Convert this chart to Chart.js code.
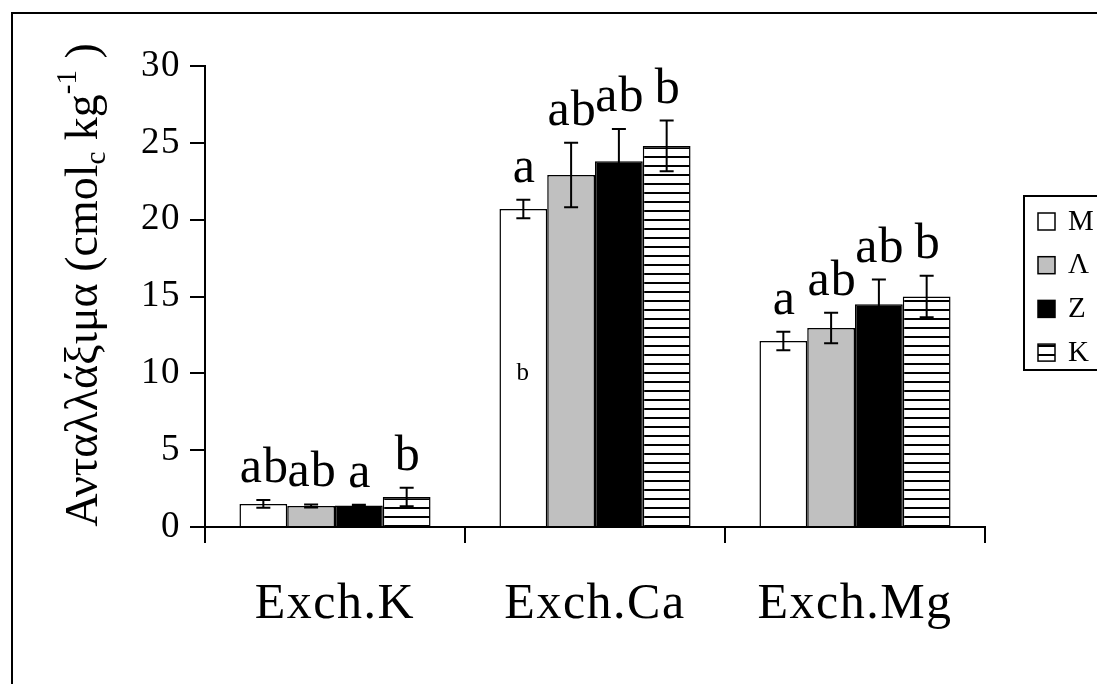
<!DOCTYPE html>
<html>
<head>
<meta charset="utf-8">
<script src="https://cdn.jsdelivr.net/npm/chart.js@4.4.1/dist/chart.umd.min.js"></script>
<style>
    body { margin: 0; background: #fff; }
    #wrap { width: 1097px; height: 684px; position: relative; }
</style>
</head>
<body>
<div id="wrap"><canvas id="graficoCationes"></canvas></div>
<script>
// categorías y series
const categorias = ['Exch.K', 'Exch.Ca', 'Exch.Mg'];
const series = ['M', 'Λ', 'Z', 'K'];

// medias (cmol_c/kg)
const mediaM = [1.5, 20.7, 12.1];
const mediaL = [1.37, 22.9, 12.95];
const mediaZ = [1.4, 23.8, 14.5];
const mediaK = [1.95, 24.8, 15.0];

// error estándar
const errM = [0.25, 0.6, 0.6];
const errL = [0.1, 2.1, 1.0];
const errZ = [0.05, 2.1, 1.6];
const errK = [0.6, 1.65, 1.35];

// letras de significancia
const letrasM = ['ab', 'a', 'a'];
const letrasL = ['ab', 'ab', 'ab'];
const letrasZ = ['a', 'ab', 'ab'];
const letrasK = ['b', 'b', 'b'];

// letra suelta dentro de la barra M de Exch.Ca
const notaInterior = { serie: 0, categoria: 1, valor: 10, texto: 'b' };

const yTicks = [0, 5, 10, 15, 20, 25, 30];

const FUENTE = "'Liberation Serif', 'Times New Roman', serif";

function rayado(ctx) {
    const c = document.createElement('canvas');
    c.width = 10;
    c.height = 9;
    const p = c.getContext('2d');
    p.fillStyle = '#fff';
    p.fillRect(0, 0, 10, 9);
    p.fillStyle = '#000';
    p.fillRect(0, 3, 10, 2);
    return ctx.createPattern(c, 'repeat');
}

document.addEventListener("DOMContentLoaded", function () {
    const ctx = document.getElementById('graficoCationes').getContext('2d');
    const patron = rayado(ctx);

    const medias = [mediaM, mediaL, mediaZ, mediaK];
    const errores = [errM, errL, errZ, errK];
    const letras = [letrasM, letrasL, letrasZ, letrasK];
    const rellenos = ['#ffffff', '#c0c0c0', '#000000', patron];

    const datasets = series.map((s, i) => ({
        label: s,
        data: medias[i],
        errores: errores[i],
        letras: letras[i],
        backgroundColor: rellenos[i],
        borderColor: '#000',
        borderWidth: 1.5,
        barPercentage: 1,
        categoryPercentage: 0.735
    }));

    const marco = {
        id: 'marco',
        beforeDraw(chart) {
            const c = chart.ctx;
            c.save();
            c.fillStyle = '#fff';
            c.fillRect(0, 0, chart.width, chart.height);
            c.strokeStyle = '#000';
            c.lineWidth = 2;
            c.strokeRect(12, 13, 2000, 2000);
            c.restore();
            // texto algo más ancho, como en el original
            c.letterSpacing = '1.5px';
        }
    };

    const barrasError = {
        id: 'barrasError',
        afterDatasetsDraw(chart) {
            const c = chart.ctx;
            const y = chart.scales.y;
            c.save();
            c.strokeStyle = '#000';
            c.lineWidth = 2;
            chart.data.datasets.forEach((ds, i) => {
                chart.getDatasetMeta(i).data.forEach((bar, j) => {
                    const v = ds.data[j], e = ds.errores[j];
                    const y1 = y.getPixelForValue(v + e);
                    const y2 = y.getPixelForValue(v - e);
                    c.beginPath();
                    c.moveTo(bar.x, y1); c.lineTo(bar.x, y2);
                    c.moveTo(bar.x - 7, y1); c.lineTo(bar.x + 7, y1);
                    c.moveTo(bar.x - 7, y2); c.lineTo(bar.x + 7, y2);
                    c.stroke();
                });
            });
            // letras
            c.fillStyle = '#000';
            c.textAlign = 'center';
            c.textBaseline = 'alphabetic';
            c.letterSpacing = '1px';
            c.font = '50px ' + FUENTE;
            chart.data.datasets.forEach((ds, i) => {
                chart.getDatasetMeta(i).data.forEach((bar, j) => {
                    const top = y.getPixelForValue(ds.data[j] + ds.errores[j]);
                    c.fillText(ds.letras[j], bar.x + 1, top - 18);
                });
            });
            const b = chart.getDatasetMeta(notaInterior.serie).data[notaInterior.categoria];
            c.font = '25px ' + FUENTE;
            c.textBaseline = 'middle';
            c.fillText(notaInterior.texto, b.x, y.getPixelForValue(notaInterior.valor));
            c.restore();
        }
    };

    const tituloY = {
        id: 'tituloY',
        afterDraw(chart) {
            const c = chart.ctx;
            const big = '46px ' + FUENTE, small = '29px ' + FUENTE;
            const partes = [
                { t: 'Ανταλλάξιμα (cmol', f: big, dy: 0 },
                { t: 'c', f: small, dy: 8 },
                { t: ' kg', f: big, dy: 0 },
                { t: '-1', f: small, dy: -21 },
                { t: ' )', f: big, dy: 0 }
            ];
            c.save();
            c.letterSpacing = '0px';
            let total = 0;
            partes.forEach(p => { c.font = p.f; p.w = c.measureText(p.t).width; total += p.w; });
            c.translate(97, 285);
            c.rotate(-Math.PI / 2);
            c.fillStyle = '#000';
            c.textBaseline = 'alphabetic';
            c.textAlign = 'left';
            let x = -total / 2;
            partes.forEach(p => { c.font = p.f; c.fillText(p.t, x, p.dy); x += p.w; });
            c.restore();
        }
    };

    const leyenda = {
        id: 'leyenda',
        afterDraw(chart) {
            const c = chart.ctx;
            c.save();
            c.strokeStyle = '#000';
            c.lineWidth = 2;
            c.beginPath();
            c.moveTo(1200, 196); c.lineTo(1024, 196); c.lineTo(1024, 370); c.lineTo(1200, 370);
            c.stroke();
            c.letterSpacing = '0px';
            c.font = '29px ' + FUENTE;
            c.textBaseline = 'middle';
            c.textAlign = 'left';
            chart.data.datasets.forEach((ds, i) => {
                const cy = 221 + i * 43.7;
                c.fillStyle = ds.backgroundColor;
                c.fillRect(1038, cy - 8, 17, 17);
                c.lineWidth = 1.5;
                c.strokeRect(1038, cy - 8, 17, 17);
                c.fillStyle = '#000';
                c.fillText(ds.label, 1068, cy + 1);
            });
            c.restore();
        }
    };

    new Chart(ctx, {
        type: 'bar',
        data: { labels: categorias, datasets: datasets },
        plugins: [marco, barrasError, tituloY, leyenda],
        options: {
            responsive: true,
            maintainAspectRatio: false,
            animation: false,
            layout: { padding: { top: 66, right: 112, left: 0, bottom: 0 } },
            plugins: {
                legend: { display: false },
                tooltip: { enabled: false },
                title: { display: false }
            },
            scales: {
                x: {
                    afterFit: s => { s.height = 157; },
                    grid: {
                        offset: true,
                        drawOnChartArea: false,
                        drawTicks: true,
                        tickLength: 16,
                        color: '#000',
                        lineWidth: 2
                    },
                    border: { color: '#000', width: 2 },
                    ticks: {
                        color: '#000',
                        padding: 32,
                        font: { family: FUENTE, size: 50 }
                    }
                },
                y: {
                    min: 0,
                    max: 30,
                    afterFit: s => { s.width = 205; },
                    afterBuildTicks: s => { s.ticks = yTicks.map(v => ({ value: v })); },
                    grid: {
                        drawOnChartArea: false,
                        drawTicks: true,
                        tickLength: 15,
                        color: '#000',
                        lineWidth: 2
                    },
                    border: { color: '#000', width: 2 },
                    ticks: {
                        color: '#000',
                        padding: 9,
                        font: { family: FUENTE, size: 37 }
                    }
                }
            }
        }
    });
});
</script>
</body>
</html>
